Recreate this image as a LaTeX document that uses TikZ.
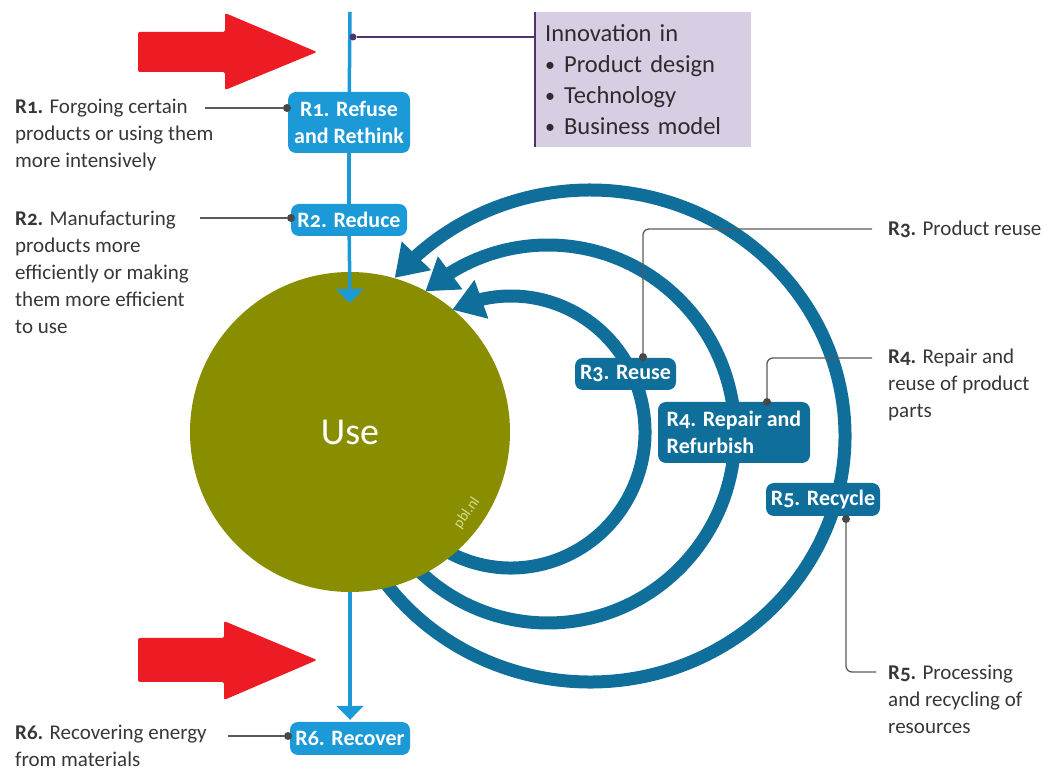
\documentclass[tikz,border=0pt]{standalone}
\usepackage{fontspec}
\setmainfont{Carlito}[Numbers=OldStyle]
\usetikzlibrary{arrows.meta,bending}
\definecolor{lblue}{RGB}{28,154,216}
\definecolor{dblue}{RGB}{16,110,155}
\definecolor{olivec}{RGB}{136,142,0}
\definecolor{redc}{RGB}{237,28,36}
\definecolor{purp}{RGB}{80,50,110}
\definecolor{lpurp}{RGB}{216,206,228}
\definecolor{txt}{RGB}{55,55,55}
\definecolor{conn}{RGB}{90,90,90}
\definecolor{pbltxt}{RGB}{214,220,140}
\newcommand{\innbul}{\raisebox{1.5pt}{\fontsize{20}{31}\selectfont\textbullet}\hspace{9pt}}
\begin{document}
\begin{tikzpicture}[x=1pt,y=1pt,
  lbox/.style={fill=lblue, text=white, rounded corners=8pt, font=\bfseries\fontsize{22}{27}\selectfont, align=center, inner sep=0pt},
  dbox/.style={fill=dblue, text=white, rounded corners=8pt, font=\bfseries\fontsize{22}{27}\selectfont, inner sep=0pt},
  ltext/.style={font=\fontsize{21}{27}\selectfont, align=left, text=txt, inner sep=0pt},
  conline/.style={draw=conn, line width=1.3pt, rounded corners=6pt},
  dotc/.style={circle, fill=conn!80!black, inner sep=0pt, minimum size=8pt},
  lbline/.style={draw=lblue, line width=3.5pt},
  lbarrow/.style={lbline, -{Triangle[length=14pt,width=27pt]}},
  darc/.style={draw=dblue, line width=13pt, -{Triangle[length=31pt,width=39pt]}},
  redarrow/.style={fill=redc, rounded corners=2pt}
]
\useasboundingbox (0,0) rectangle (1055,771);

% red arrows
\fill[redarrow] (138,739) -- (225,739) -- (225,758) -- (317,719) -- (225,681) -- (225,699) -- (138,699) -- cycle;
\fill[redarrow] (138,133) -- (224,133) -- (224,150) -- (317,111) -- (224,71) -- (224,89) -- (138,89) -- cycle;

% recirculation arcs
\draw[darc] (511,339) ++(-118:134pt and 136pt) arc[start angle=-118, end angle=116, x radius=134pt, y radius=136pt];
\draw[darc] (548,337) ++(-133:187pt and 189pt) arc[start angle=-133, end angle=131, x radius=187pt, y radius=189pt];
\draw[darc] (590,335) ++(-144:255pt and 246pt) arc[start angle=-144, end angle=140, x radius=255pt, y radius=246pt];

% use circle
\node[circle, fill=olivec, minimum size=320pt, inner sep=0pt, text=white, font=\fontsize{38}{44}\selectfont] (use) at (350,339) {Use};
\node[rotate=55, text=pbltxt, font=\fontsize{15}{17}\selectfont, inner sep=0pt] (pbl) at (467,258) {pbl.nl};

% boxes
\node[lbox, minimum width=122pt, minimum height=61pt] (r1) at (349,648.5) {R1. Refuse\\and Rethink};
\node[lbox, minimum width=116pt, minimum height=32pt] (r2) at (349,551) {R2. Reduce};
\node[lbox, minimum width=120pt, minimum height=33pt] (r6) at (350,32.5) {R6. Recover};
\node[dbox, minimum width=101pt, minimum height=32pt] (r3) at (625.5,397) {R3. Reuse};
\node[dbox, minimum width=152pt, minimum height=61pt, align=left] (r4) at (734,338.5) {R4. Repair and\\Refurbish};
\node[dbox, minimum width=114pt, minimum height=33pt] (r5) at (823,271.5) {R5. Recycle};

% vertical light-blue flow
\coordinate (top) at (350,759);
\coordinate (intip) at (350,468);
\draw[lbline] (top) -- (r1);
\draw[lbline] (r1) -- (r2);
\draw[lbarrow] (r2) -- (intip);
\draw[lbarrow, shorten >=2pt] (use.south) -- (r6.north);

% innovation box
\node[fill=lpurp, anchor=north west, minimum width=213pt, minimum height=135pt, text width=196pt, inner xsep=10pt, inner ysep=0pt, align=left, text=txt!80!black, font=\fontsize{24.5}{31}\selectfont] (innov) at (535,759) {Innovation in\\\innbul Product design\\\innbul Technology\\\innbul Business model};
\draw[purp, line width=2.5pt] (innov.north west) -- (innov.south west);
\node[circle, fill=purp, inner sep=0pt, minimum size=7pt] (pdot) at (353,734) {};
\coordinate (pend) at (535,734);
\draw[purp, line width=1.3pt] (pdot) -- (pend);

% left texts
\node[ltext, anchor=west] (t1) at (15,636) {\textbf{R1.} Forgoing certain\\products or using them\\more intensively};
\node[ltext, anchor=west] (t2) at (15,498.5) {\textbf{R2.} Manufacturing\\products more\\efficiently or making\\them more efficient\\to use};
\node[ltext, anchor=west] (t6) at (15,25.5) {\textbf{R6.} Recovering energy\\from materials};

% right texts
\node[ltext, anchor=west] (t3) at (888,542) {\textbf{R3.} Product reuse};
\node[ltext, anchor=west] (t4) at (888,386) {\textbf{R4.} Repair and\\reuse of product\\parts};
\node[ltext, anchor=west] (t5) at (888,72) {\textbf{R5.} Processing\\and recycling of\\resources};

% connectors left
\node[dotc] (d1) at (287,663) {};
\coordinate (e1) at (205,663);
\draw[conline] (e1) -- (d1);
\node[dotc] (d2) at (291,553) {};
\coordinate (e2) at (200,553);
\draw[conline] (e2) -- (d2);
\node[dotc] (d6) at (288,35) {};
\coordinate (e6) at (228,35);
\draw[conline] (e6) -- (d6);

% connectors right
\node[dotc] (d3) at (643,414) {};
\coordinate (e3) at (872,542);
\draw[conline] (d3) |- (e3);
\node[dotc] (d4) at (767,369) {};
\coordinate (e4) at (872,413);
\draw[conline] (d4) |- (e4);
\node[dotc] (d5) at (846,252) {};
\coordinate (e5) at (876,99);
\draw[conline] (d5) |- (e5);
\end{tikzpicture}
\end{document}
